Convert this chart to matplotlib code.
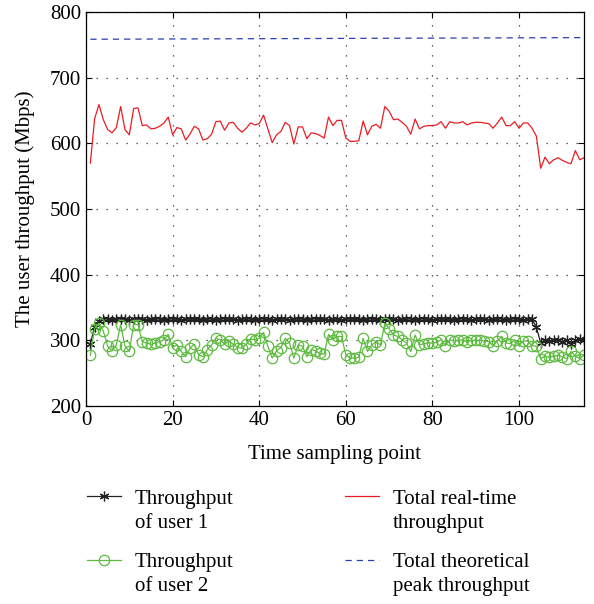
import matplotlib
matplotlib.use("Agg")
import matplotlib.pyplot as plt

# ---------------- data ----------------
sample_idx = list(range(1, 116))

total_realtime = [
    570, 638, 659, 636, 621, 616, 624, 656, 621, 613,
    653, 654, 627, 628, 622, 623, 626, 631, 640, 613,
    624, 622, 605, 614, 626, 622, 605, 607, 614, 633,
    634, 620, 631, 632, 623, 617, 623, 631, 628, 630,
    643, 622, 601, 613, 618, 632, 627, 599, 625, 625,
    607, 616, 615, 612, 608, 640, 627, 635, 635, 608,
    603, 603, 604, 634, 613, 626, 629, 623, 656, 649,
    636, 637, 632, 626, 614, 637, 622, 626, 627, 627,
    628, 633, 623, 633, 631, 631, 633, 628, 631, 632,
    632, 631, 630, 623, 631, 640, 627, 627, 633, 623,
    631, 631, 623, 611, 562, 579, 569, 575, 578, 574,
    571, 569, 589, 575, 578,
]

user1 = [
    295, 321, 330, 332, 333, 331, 332, 333, 332, 331,
    332, 333, 332, 331, 332, 332, 333, 331, 332, 333,
    332, 331, 332, 333, 332, 332, 331, 333, 332, 331,
    332, 333, 332, 332, 331, 332, 333, 332, 331, 332,
    333, 332, 331, 332, 332, 333, 331, 332, 333, 332,
    331, 332, 333, 332, 332, 331, 333, 332, 331, 333,
    333, 332, 332, 331, 332, 333, 332, 331, 332, 333,
    332, 331, 332, 332, 333, 331, 332, 333, 332, 331,
    332, 333, 332, 332, 331, 332, 333, 332, 331, 332,
    333, 332, 331, 332, 332, 333, 331, 332, 333, 332,
    331, 332, 332, 320, 296, 301, 299, 300, 301, 298,
    301, 294, 300, 302, 300,
]

user2 = [
    277, 318, 326, 314, 291, 284, 293, 324, 291, 283,
    324, 324, 298, 296, 294, 296, 298, 301, 309, 289,
    293, 283, 275, 288, 294, 278, 275, 286, 293, 303,
    301, 294, 299, 294, 289, 288, 294, 302, 301, 303,
    312, 291, 273, 284, 289, 303, 296, 273, 293, 291,
    275, 286, 284, 280, 279, 309, 301, 306, 306, 278,
    273, 273, 274, 303, 283, 293, 298, 293, 326, 318,
    308, 306, 301, 296, 283, 308, 293, 295, 296, 296,
    297, 301, 292, 301, 299, 300, 301, 297, 300, 300,
    300, 299, 298, 292, 299, 306, 296, 295, 301, 292,
    299, 299, 292, 291, 272, 276, 274, 276, 277, 275,
    272, 283, 276, 272, 278,
]

peak_x = [1, 115]
peak_vals = [758.5, 761]

x_ticks = [0, 20, 40, 60, 80, 100]
y_ticks = [200, 300, 400, 500, 600, 700, 800]

legend_first = ['Throughput', 'Throughput', 'Total real-time', 'Total theoretical']
legend_second = ['of user 1', 'of user 2', 'throughput', 'peak throughput']

# ---------------- plot ----------------
plt.rcParams['font.family'] = ['Liberation Serif', 'DejaVu Serif']
plt.rcParams['font.size'] = 15

W, H = 594, 604
fig = plt.figure(figsize=(W/100, H/100), dpi=100)
ax = fig.add_axes([86/W, 1-406/H, (584-86)/W, (406-12)/H])

l1, = ax.plot(sample_idx, user1, color='#222222', lw=0.9, marker=(6, 2, 0),
              markersize=7, markeredgewidth=0.9, label=legend_first[0])
l2, = ax.plot(sample_idx, user2, color='#5dbb3f', lw=0.9, marker='o',
              markersize=7.5, markerfacecolor='none', markeredgewidth=0.9,
              label=legend_first[1])
l3, = ax.plot(sample_idx, total_realtime, color='#ec1c24', lw=0.9,
              label=legend_first[2])
l4, = ax.plot(peak_x, peak_vals, color='#2b3fae', lw=0.9, ls=(0, (5, 4)),
              label=legend_first[3])

ax.set_xlim(0, 115)
ax.set_ylim(200, 800)
ax.set_xticks(x_ticks)
ax.set_yticks(y_ticks)
ax.grid(True, color='#333333', ls=(0, (1, 7)), lw=0.9)
ax.tick_params(direction='in', top=True, right=True, length=4, width=0.8)
for s in ax.spines.values():
    s.set_linewidth(0.9)

ax.set_xlabel('Time sampling point', labelpad=11)
ax.set_ylabel('The user throughput (Mbps)', labelpad=11)

fs_px = 15 * 100 / 72
leg_kw = dict(loc='upper left', frameon=False, borderpad=0, borderaxespad=0,
              handlelength=34/fs_px, handletextpad=14/fs_px, labelspacing=2.1)
legA = fig.legend(handles=[l1, l2], bbox_to_anchor=(87/W, 1-489/H), **leg_kw)
legB = fig.legend(handles=[l3, l4], bbox_to_anchor=(345/W, 1-489/H), **leg_kw)

fig.canvas.draw()
inv = fig.transFigure.inverted()
texts = legA.get_texts() + legB.get_texts()
for t, second in zip(texts, legend_second):
    x, y = t.get_transform().transform(t.get_position())
    fx, fy = inv.transform((x, y - 24))
    fig.text(fx, fy, second, ha='left', va='baseline', fontsize=15)

fig.savefig('out.png', dpi=100)
